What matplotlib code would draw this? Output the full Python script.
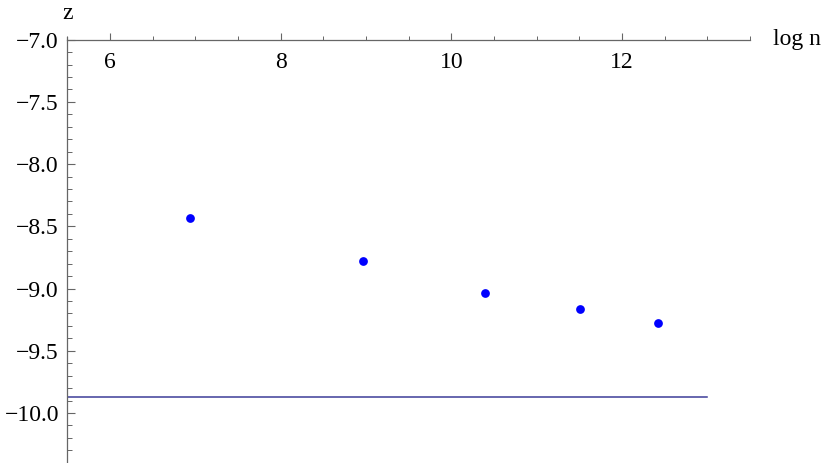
import numpy as np
import matplotlib.pyplot as plt
from matplotlib.ticker import MultipleLocator, FuncFormatter

# data
log_n = [6.937, 8.963, 10.40, 11.51, 12.425]
z_vals = [-8.434, -8.778, -9.038, -9.161, -9.279]
# horizontal reference level
z_limit = -9.871
line_x = [5.5, 13.0]

plt.rcParams['font.family'] = ['Liberation Serif', 'DejaVu Serif']

fig = plt.figure(figsize=(8.22, 4.63), dpi=100)
ax = fig.add_axes([0.0819, 0.0006, 0.9124 - 0.0819, 0.919])

ax.plot(line_x, [z_limit, z_limit], color='#3d3d99', lw=1.1, zorder=2)
ax.plot(log_n, z_vals, 'o', color='#0000ff', ms=6.3, mec='none', zorder=3)

ax.set_xlim(5.5, 13.5)
ax.set_ylim(-10.4, -6.98)

# Mathematica style axes: x axis drawn at z = -7, y axis at left
ax.spines['top'].set_visible(False)
ax.spines['right'].set_visible(False)
ax.spines['bottom'].set_position(('data', -7.0))
for s in ['left', 'bottom']:
    ax.spines[s].set_color('#666666')
    ax.spines[s].set_linewidth(0.9)

ax.xaxis.set_major_locator(MultipleLocator(2))
ax.xaxis.set_minor_locator(MultipleLocator(0.5))
ax.yaxis.set_major_locator(MultipleLocator(0.5))
ax.yaxis.set_minor_locator(MultipleLocator(0.1))
ax.yaxis.set_major_formatter(FuncFormatter(lambda v, p: ('%.1f' % v).replace('-', '\u2212')))

ax.tick_params(axis='x', which='major', direction='in', length=5, width=0.8,
               color='#666666', labelsize=17, pad=9)
ax.tick_params(axis='x', which='minor', direction='in', length=3, width=0.7,
               color='#666666')
ax.tick_params(axis='y', which='major', direction='in', length=6, width=0.8,
               color='#666666', labelsize=17, pad=6)
ax.tick_params(axis='y', which='minor', direction='in', length=3.5, width=0.7,
               color='#666666')

ax.text(5.5, -6.79, 'z', ha='center', va='center', fontsize=17, clip_on=False)
ax.text(13.77, -7.0, 'log n', ha='left', va='center', fontsize=17, clip_on=False)

fig.savefig('out.png', dpi=100)
